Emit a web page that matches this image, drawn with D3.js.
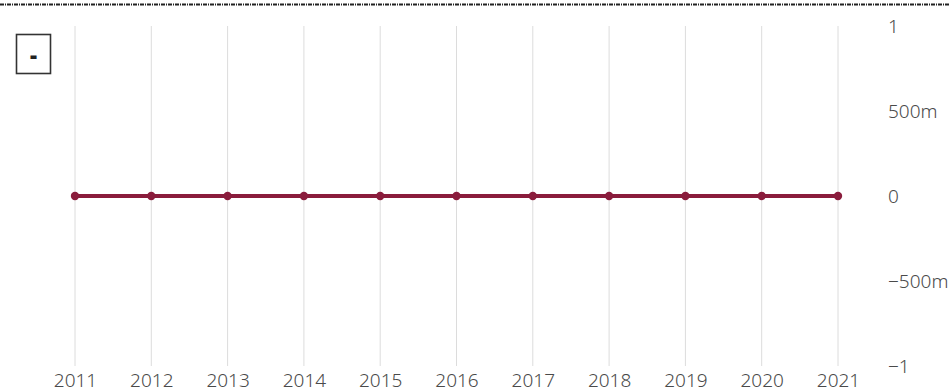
<!DOCTYPE html>
<html>
<head>
<meta charset="utf-8">
<script src="https://cdn.jsdelivr.net/npm/d3@7/dist/d3.min.js"></script>
<style>
  html, body { margin: 0; padding: 0; background: #fff; }
  svg { display: block; }
</style>
</head>
<body>
<svg id="chart" width="950" height="392"></svg>
<script>
const years = [2011, 2012, 2013, 2014, 2015, 2016, 2017, 2018, 2019, 2020, 2021];
const values = [0, 0, 0, 0, 0, 0, 0, 0, 0, 0, 0];
const yTicks = [-1, -0.5, 0, 0.5, 1];
const legendLabel = "-";

const W = 950, H = 392;
const svg = d3.select("#chart");
const font = "'Source Sans Pro', 'Noto Sans', 'Open Sans', sans-serif";

const x = d3.scalePoint().domain(years).range([75, 838]);
const y = d3.scaleLinear().domain([-1, 1]).range([366, 26]);

// dotted rule along the top edge
svg.append("line")
  .attr("x1", 0).attr("x2", W).attr("y1", 4.5).attr("y2", 4.5)
  .attr("stroke", "#222").attr("stroke-width", 2)
  .attr("stroke-dasharray", "4,1,1,1");

// vertical year gridlines
svg.append("g").selectAll("line").data(years).join("line")
  .attr("x1", d => x(d)).attr("x2", d => x(d))
  .attr("y1", y(1)).attr("y2", y(-1))
  .attr("stroke", "#dcdcdc").attr("stroke-width", 1);

// x axis labels
const xAxis = d3.axisBottom(x).tickSize(0).tickPadding(0);
const gx = svg.append("g").attr("transform", "translate(0,373)").call(xAxis);
gx.select(".domain").remove();
gx.selectAll("text")
  .attr("dy", "0.75em")
  .attr("font-family", font).attr("font-size", 19).attr("font-weight", 300)
  .attr("fill", "#4a4a4a");

// y axis labels on the right
const fmt = d3.format("~s");
const yAxis = d3.axisRight(y).tickValues(yTicks).tickSize(0).tickPadding(0)
  .tickFormat(d => fmt(d).replace("-", "\u2212"));
const gy = svg.append("g").attr("transform", "translate(888,0)").call(yAxis);
gy.select(".domain").remove();
gy.selectAll("text")
  .attr("font-family", font).attr("font-size", 19).attr("font-weight", 300)
  .attr("fill", "#4a4a4a");

// series line and markers
const color = "#8a1c3c";
svg.append("path")
  .datum(years.map((d, i) => [d, values[i]]))
  .attr("fill", "none").attr("stroke", color).attr("stroke-width", 4)
  .attr("d", d3.line().x(d => x(d[0])).y(d => y(d[1])));

svg.append("g").selectAll("circle").data(years).join("circle")
  .attr("cx", d => x(d)).attr("cy", (d, i) => y(values[i]))
  .attr("r", 4.2).attr("fill", color);

// legend box
svg.append("rect")
  .attr("x", 16.5).attr("y", 34.5).attr("width", 34).attr("height", 39)
  .attr("fill", "#fff").attr("stroke", "#333").attr("stroke-width", 1.6);
svg.append("text")
  .attr("x", 33.5).attr("y", 54).attr("text-anchor", "middle")
  .attr("dominant-baseline", "central")
  .attr("font-family", font).attr("font-size", 22).attr("font-weight", 900)
  .attr("fill", "#222").text(legendLabel);
</script>
</body>
</html>
